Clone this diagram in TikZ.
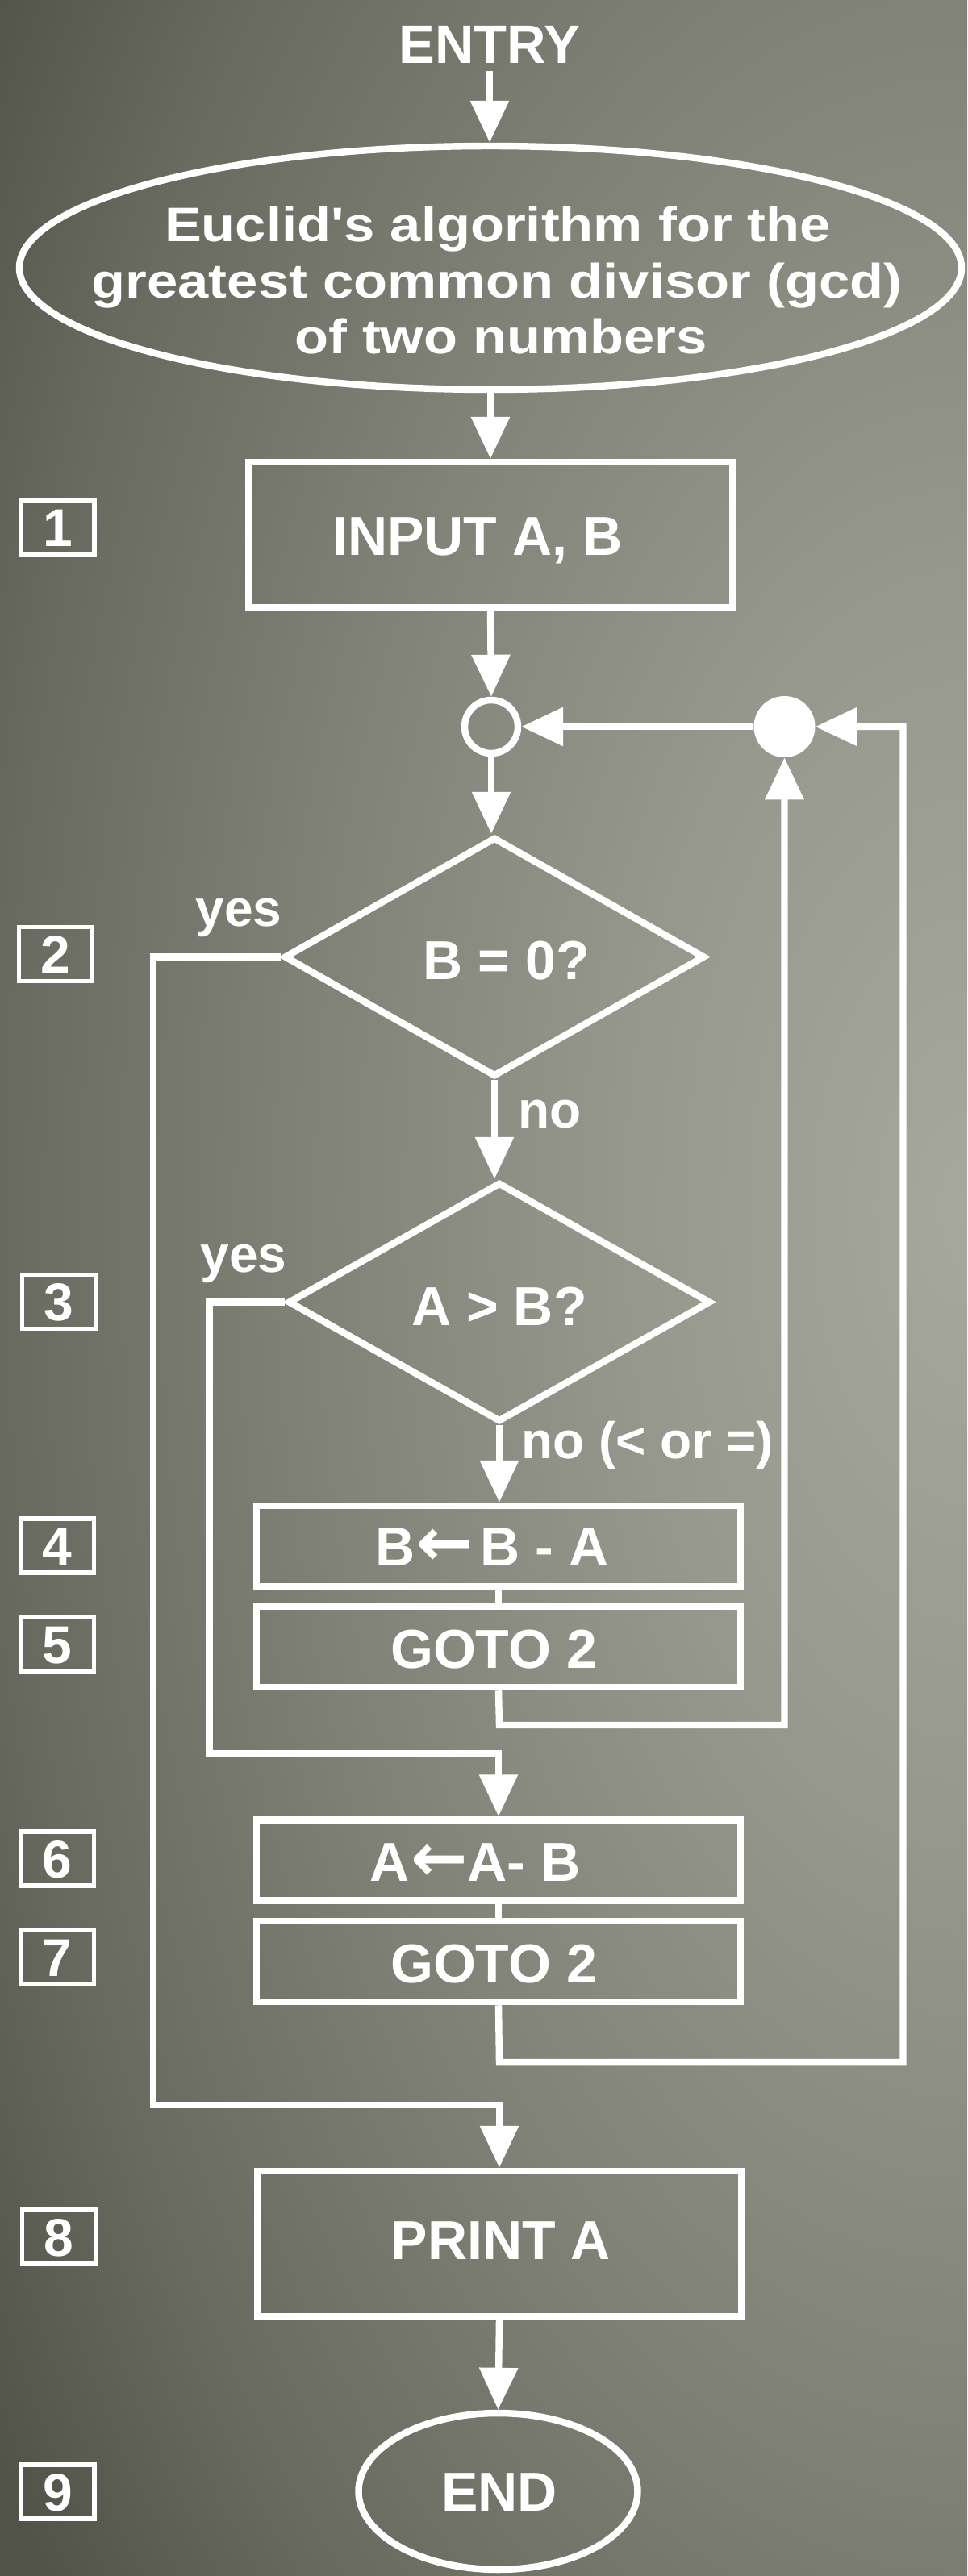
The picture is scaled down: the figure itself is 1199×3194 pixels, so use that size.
\documentclass[tikz,border=0pt]{standalone}
\usepackage{fontspec}
\usepackage{graphicx}
\newfontfamily\lsans{Liberation Sans}
\newfontfamily\djv{DejaVu Sans}
\usetikzlibrary{shapes.geometric,arrows.meta}
\definecolor{bgA}{RGB}{166,168,158}
\definecolor{bgB}{RGB}{150,152,142}
\definecolor{bgC}{RGB}{127,129,118}
\definecolor{bgD}{RGB}{104,106,95}
\definecolor{bgE}{RGB}{81,83,73}
\definecolor{bgF}{RGB}{76,78,68}
\pgfdeclareradialshading{bgshade}{\pgfpoint{0bp}{0bp}}{color(0bp)=(bgA); color(7.5bp)=(bgB); color(15bp)=(bgC); color(21.5bp)=(bgD); color(26.25bp)=(bgE); color(50bp)=(bgF)}
\newcommand{\fmain}{\lsans\bfseries\fontsize{48.4pt}{58pt}\selectfont}
\newcommand{\fentry}{\lsans\bfseries\fontsize{47.7pt}{58pt}\selectfont}
\newcommand{\fell}{\lsans\bfseries\fontsize{42.7pt}{50pt}\selectfont}
\newcommand{\flab}{\lsans\bfseries\fontsize{45.5pt}{54pt}\selectfont}
\newcommand{\fnum}{\lsans\bfseries\fontsize{46.9pt}{56pt}\selectfont}
\newcommand{\larr}{{\djv\bfseries\fontsize{60pt}{60pt}\selectfont ←}}
\begin{document}
\begin{tikzpicture}[x=0.25mm,y=-0.25mm,line join=miter,
  conn/.style={draw=white,line width=6pt,-{Triangle[length=37pt,width=33pt]}},
  wline/.style={draw=white,line width=6pt},
  procbox/.style={rectangle,draw=white,line width=6pt,inner sep=0pt,minimum width=150mm},
  decide/.style={diamond,draw=white,line width=6pt,inner sep=0pt,minimum height=74.25mm},
  tx/.style={text=white,inner sep=0pt,anchor=base,font=\fmain},
  lab/.style={text=white,inner sep=0pt,font=\flab},
  numbox/.style={rectangle,draw=white,line width=4.2pt,minimum width=22.75mm,minimum height=16.75mm,inner sep=0pt,text=white,font=\fnum,text height=33.4pt,text depth=0pt}]
\useasboundingbox (0,0) rectangle (1199,3194);
\begin{scope}
\clip (0,0) rectangle (1199,3194);
\shade[shading=bgshade] (-200,-1100) rectangle (2600,4100);
\end{scope}

% nodes
\node[tx,font=\fentry] (entry) at (607,78) {ENTRY};
\node[ellipse,draw=white,line width=6pt,minimum width=292mm,minimum height=75.5mm,inner sep=0pt] (title) at (608,332) {};
\node[tx,font=\fell] (t1) at (617,299) {\scalebox{1.145}[1]{Euclid's algorithm for the}};
\node[tx,font=\fell] (t2) at (616,369) {\scalebox{1.145}[1]{greatest common divisor (gcd)}};
\node[tx,font=\fell] (t3) at (621,438) {\scalebox{1.145}[1]{of two numbers}};

\node[procbox,minimum height=45mm] (input) at (608,663) {};
\node[tx] (inputtxt) at (592,688) {INPUT A, B};

\node[circle,draw=white,line width=6pt,minimum size=16.5mm,inner sep=0pt] (junc) at (609,901) {};
\node[circle,fill=white,minimum size=19mm,inner sep=0pt] (merge) at (972.5,901) {};

\node[decide,minimum width=130.5mm] (d1) at (613,1186.5) {};
\node[tx] (d1txt) at (628,1214) {B = 0?};
\node[decide,minimum width=131mm] (d2) at (619,1614.5) {};
\node[tx] (d2txt) at (619,1643) {A > B?};

\node[lab,anchor=base] (yes1) at (296,1148) {yes};
\node[lab,anchor=base west] (no1) at (642,1398) {no};
\node[lab,anchor=base] (yes2) at (302,1577) {yes};
\node[lab,anchor=base west] (no2) at (646,1808) {no (< or =)};

\node[procbox,minimum height=25mm] (bsub) at (618,1917) {};
\node[tx] (bsubtxt) at (610,1941) {B\kern1pt\larr\kern6pt B - A};
\node[procbox,minimum height=25mm] (goto5) at (618,2042) {};
\node[tx] (goto5txt) at (612,2068) {GOTO 2};
\node[procbox,minimum height=25mm] (asub) at (618,2306.5) {};
\node[tx] (asubtxt) at (589,2332) {A\kern1pt\larr\kern0pt A- B};
\node[procbox,minimum height=25mm] (goto7) at (618,2432) {};
\node[tx] (goto7txt) at (612,2458) {GOTO 2};

\node[procbox,minimum height=45mm] (print) at (619,2782) {};
\node[tx] (printtxt) at (621,2801) {PRINT A};

\node[ellipse,draw=white,line width=6pt,minimum width=86.5mm,minimum height=48.5mm,inner sep=0pt] (endn) at (617.5,3089) {};
\node[tx] (endtxt) at (619,3113) {END};

% step numbers
\node[numbox] (n1) at (71.5,654.5) {1};
\node[numbox] (n2) at (69,1183) {2};
\node[numbox] (n3) at (73,1614) {3};
\node[numbox] (n4) at (71,1916.5) {4};
\node[numbox] (n5) at (71,2039) {5};
\node[numbox] (n6) at (71,2304.5) {6};
\node[numbox] (n7) at (71,2426.5) {7};
\node[numbox] (n8) at (73,2773.5) {8};
\node[numbox] (n9) at (71.5,3089.5) {9};

% helper coordinates
\coordinate (y1a) at (190,2610);
\coordinate (y2a) at (259.5,2174);
\coordinate (l1a) at (619,2139);
\coordinate (l2a) at (619,2557);
\coordinate (l2b) at (1119.5,901);

% connectors
\draw[conn] ([yshift=-2.5mm]entry.south) -- (entry.south |- title.north);
\draw[conn] (title.south) -- (input.north);
\draw[conn] (input.south) -- (junc.north);
\draw[conn] (junc.south) -- (junc.south |- d1.north);
\draw[conn] (d1.south) -- (d1.south |- d2.north);
\draw[conn] (d2.south) -- (d2.south |- bsub.north);
\draw[wline] (bsub.south) -- (goto5.north);
\draw[conn] (goto5.south) -- (l1a) -| (merge.south);
\draw[conn] (d1.west) -| (y1a) -| (print.north);
\draw[conn] (d2.west) -| (y2a) -| (asub.north);
\draw[wline] (asub.south) -- (goto7.north);
\draw[conn] (goto7.south) -- (l2a) -| (l2b) -- (merge.east);
\draw[conn] (merge.west) -- (junc.east);
\draw[conn] (print.south) -- (endn.north);
\end{tikzpicture}
\end{document}
